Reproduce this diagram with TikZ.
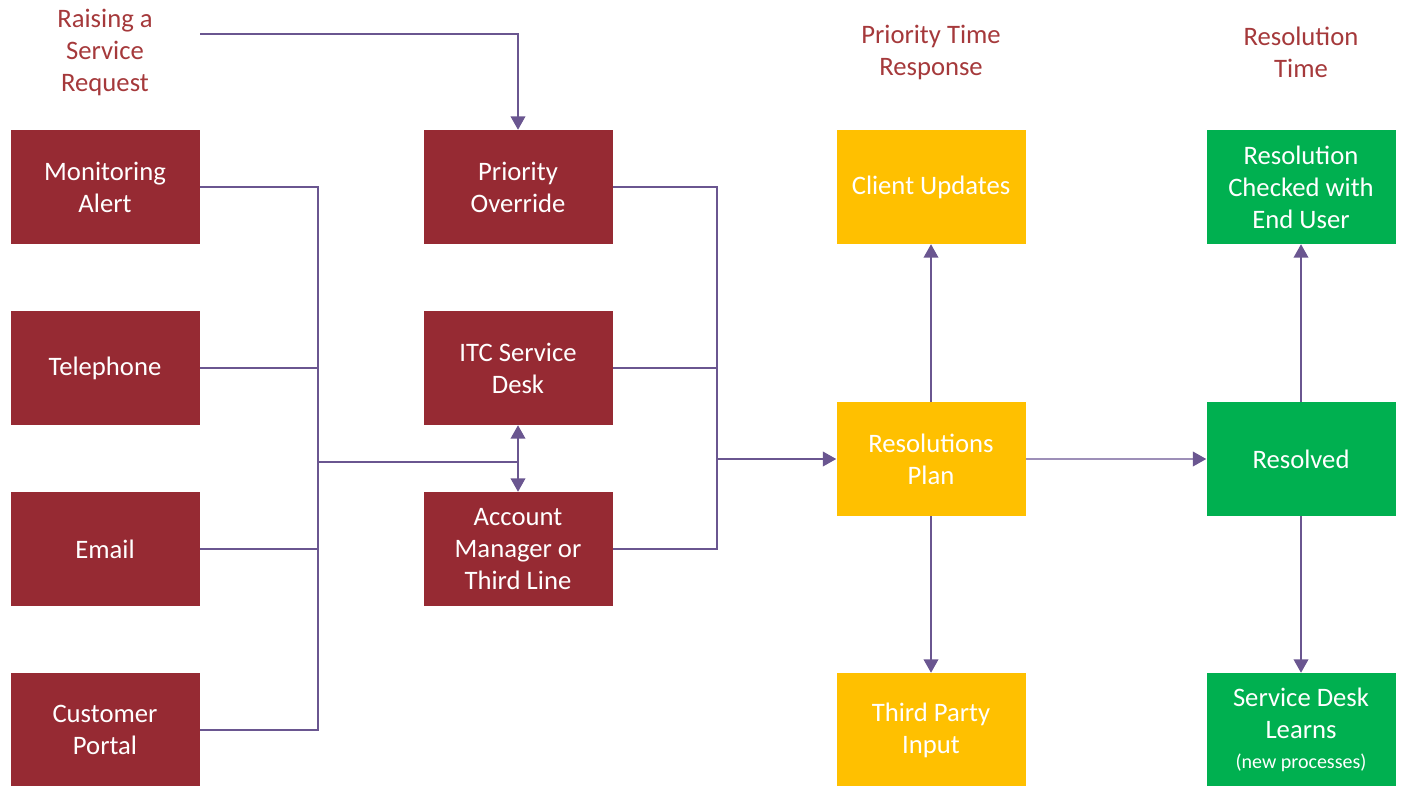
\documentclass[tikz,border=0pt]{standalone}
\usepackage{fontspec}
\setmainfont{Carlito}
\usetikzlibrary{arrows.meta}

\definecolor{boxred}{HTML}{962A33}
\definecolor{boxyellow}{HTML}{FFC000}
\definecolor{boxgreen}{HTML}{00B050}
\definecolor{headred}{HTML}{A5393B}
\definecolor{linkpurple}{HTML}{6A5690}
\definecolor{linklight}{HTML}{9D8FB8}

\begin{document}
\begin{tikzpicture}[
        x=0.75pt, y=-0.75pt,
        stage/.style={rectangle, minimum width=141.75pt, minimum height=85.5pt,
            inner sep=0pt, text=white, align=center, font=\fontsize{20}{24}\selectfont},
        red stage/.style={stage, fill=boxred},
        yellow stage/.style={stage, fill=boxyellow},
        green stage/.style={stage, fill=boxgreen},
        heading/.style={align=center, text=headred, font=\fontsize{20}{24}\selectfont},
        link/.style={draw=linkpurple, line width=1.1pt},
        arrow/.style={link, -{Triangle[length=10pt,width=11pt,color=linkpurple]}},
    ]
    \useasboundingbox (0,0) rectangle (1402,785);

    \node[heading] (raise) at (105,52) {Raising a\\Service\\Request};
    \node[heading] (prio head) at (931,52) {Priority Time\\Response};
    \node[heading] (res head) at (1301,52) {Resolution\\Time};

    \node[red stage] (alert) at (105,187) {Monitoring\\Alert};
    \node[red stage] (phone) at (105,368) {Telephone};
    \node[red stage] (email) at (105,549) {Email};
    \node[red stage] (portal) at (105,730) {Customer\\Portal};

    \node[red stage] (override) at (518,187) {Priority\\Override};
    \node[red stage] (itc) at (518,368) {ITC Service\\Desk};
    \node[red stage] (acct) at (518,549) {Account\\Manager or\\Third Line};

    \node[yellow stage] (updates) at (931,187) {Client Updates};
    \node[yellow stage] (plan) at (931,459) {Resolutions\\Plan};
    \node[yellow stage] (third) at (931,730) {Third Party\\Input};

    \node[green stage] (checked) at (1301,187) {Resolution\\Checked with\\End User};
    \node[green stage] (resolved) at (1301,459) {Resolved};
    \node[green stage] (learns) at (1301,730) {Service Desk\\Learns\\[-2pt]{\fontsize{15}{18}\selectfont(new processes)}};

    \coordinate (raise end) at (200,34);
    \coordinate (lbus) at (318,462);
    \coordinate (rbus) at (717,459);

    \draw[arrow] (raise end) -| (override);

    \draw[link] (alert) -- (alert -| lbus) -- (portal -| lbus) -- (portal);
    \draw[link] (phone) -- (phone -| lbus);
    \draw[link] (email) -- (email -| lbus);
    \draw[link] (lbus) -- (lbus -| itc);
    \draw[arrow] (lbus -| itc) -- (itc);
    \draw[arrow] (lbus -| itc) -- (acct);

    \draw[link] (override) -- (override -| rbus) -- (acct -| rbus) -- (acct);
    \draw[link] (itc) -- (itc -| rbus);
    \draw[arrow] (rbus) -- (plan);

    \draw[arrow] (plan) -- (updates);
    \draw[arrow] (plan) -- (third);
    \draw[arrow, draw=linklight] (plan) -- (resolved);
    \draw[arrow] (resolved) -- (checked);
    \draw[arrow] (resolved) -- (learns);
\end{tikzpicture}
\end{document}
